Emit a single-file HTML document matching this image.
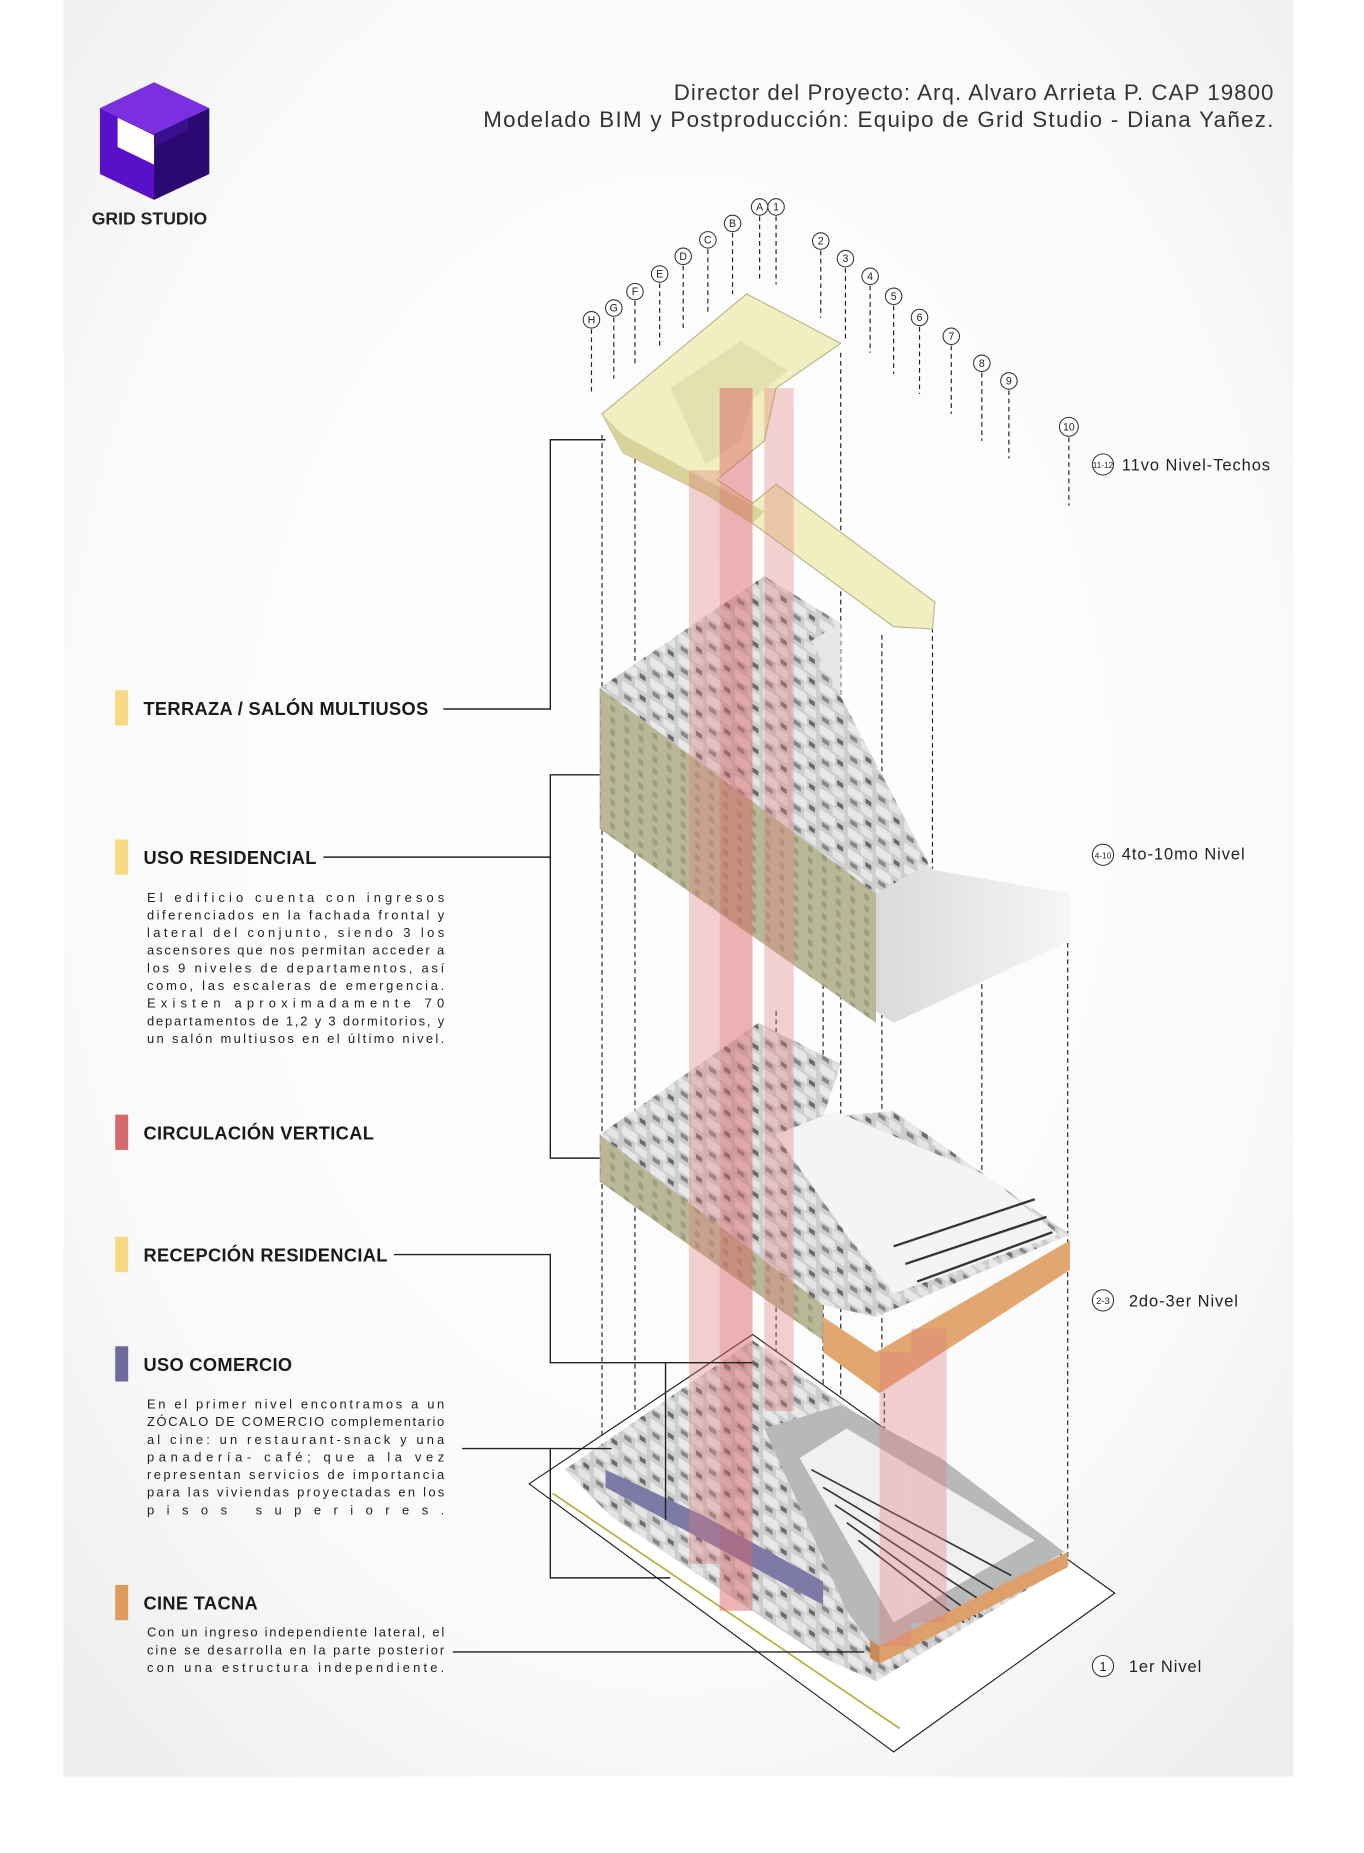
<!DOCTYPE html>
<html><head><meta charset="utf-8"><style>
html,body{margin:0;padding:0;background:#fff;}
svg{display:block}
text{font-family:"Liberation Sans",sans-serif}
.h{font-weight:bold;font-size:15.5px;fill:#1a1a1a;letter-spacing:0.3px}
.p{font-size:11px;fill:#222;letter-spacing:0.2px}
.r{font-size:14px;fill:#222;letter-spacing:0.8px}
.g{font-size:9px;fill:#222}
</style></head><body>
<svg width="1364" height="1853" viewBox="0 0 1160 1576" preserveAspectRatio="none" xmlns="http://www.w3.org/2000/svg">
<defs>
<radialGradient id="bg" cx="0.5" cy="0.45" r="0.7"><stop offset="0" stop-color="#ffffff"/><stop offset="0.7" stop-color="#fafafa"/><stop offset="1" stop-color="#eeeeee"/></radialGradient>
<linearGradient id="sh" x1="0" y1="0" x2="1" y2="0"><stop offset="0" stop-color="#cfcfcf"/><stop offset="1" stop-color="#f6f6f6"/></linearGradient>
<pattern id="rooms" width="24" height="18" patternUnits="userSpaceOnUse" patternTransform="skewY(33)">
<rect width="24" height="18" fill="#cdcdcd"/>
<rect x="1" y="1" width="13" height="8" fill="#e8e8e8"/>
<rect x="16" y="3" width="5" height="4" fill="#6a6a6a"/>
<rect x="3" y="11" width="6" height="4" fill="#888"/>
<rect x="12" y="10" width="10" height="7" fill="#e4e4e4"/>
</pattern>
<pattern id="fac" width="12" height="10" patternUnits="userSpaceOnUse" patternTransform="skewY(33)">
<rect width="12" height="10" fill="#b9b797"/>
<rect x="3" y="2" width="4" height="5" fill="#9f9d80"/>
</pattern>
</defs>
<rect x="54" y="0" width="1046" height="1511" fill="url(#bg)"/>
<!-- logo -->
<polygon points="131,70 178,92 131,114 85,92" fill="#7a2fe0"/>
<polygon points="85,92 131,114 131,170 85,148" fill="#5a10c8"/>
<polygon points="131,114 178,92 178,148 131,170" fill="#2a0a70"/>
<polygon points="100,100 131,115 131,140 100,125" fill="#fff"/>
<polygon points="131,115 160,100 160,110 131,125" fill="#3a1090"/>
<text x="78" y="191" style="font-weight:bold;font-size:15px;fill:#222">GRID STUDIO</text>
<!-- title -->
<text x="1083" y="85" text-anchor="end" style="font-size:19px;fill:#333" textLength="510" lengthAdjust="spacing">Director del Proyecto: Arq. Alvaro Arrieta P. CAP 19800</text>
<text x="1083" y="108" text-anchor="end" style="font-size:19px;fill:#333" textLength="672" lengthAdjust="spacing">Modelado BIM y Postproducción: Equipo de Grid Studio - Diana Yañez.</text>
<!-- dashed lines -->
<g stroke="#222" stroke-width="1" stroke-dasharray="4,3" fill="none">
<line x1="503" y1="280" x2="503" y2="335"/><line x1="522" y1="270" x2="522" y2="322"/><line x1="540" y1="256" x2="540" y2="310"/><line x1="561" y1="241" x2="561" y2="295"/><line x1="581" y1="226" x2="581" y2="280"/><line x1="602" y1="212" x2="602" y2="266"/><line x1="623" y1="198" x2="623" y2="250"/><line x1="646" y1="184" x2="646" y2="240"/><line x1="660" y1="184" x2="660" y2="242"/>
<line x1="698" y1="213" x2="698" y2="270"/><line x1="719" y1="228" x2="719" y2="290"/><line x1="740" y1="243" x2="740" y2="300"/><line x1="760" y1="260" x2="760" y2="318"/><line x1="782" y1="278" x2="782" y2="335"/><line x1="809" y1="294" x2="809" y2="352"/><line x1="835" y1="317" x2="835" y2="375"/><line x1="858" y1="332" x2="858" y2="390"/><line x1="909" y1="372" x2="909" y2="430"/>
<line x1="512" y1="370" x2="512" y2="1285"/><line x1="540" y1="390" x2="540" y2="1300"/><line x1="715" y1="300" x2="715" y2="1190"/><line x1="750" y1="540" x2="750" y2="1160"/><line x1="793" y1="520" x2="793" y2="740"/><line x1="835" y1="760" x2="835" y2="1000"/><line x1="908" y1="760" x2="908" y2="1330"/><line x1="700" y1="760" x2="700" y2="1190"/><line x1="660" y1="860" x2="660" y2="1150"/><line x1="752" y1="1150" x2="752" y2="1400"/>
</g>
<!-- grid bubbles -->
<g fill="#fff" stroke="#333" stroke-width="0.9">
<circle cx="503" cy="272" r="7"/><circle cx="522" cy="262" r="7"/><circle cx="540" cy="248" r="7"/><circle cx="561" cy="233" r="7"/><circle cx="581" cy="218" r="7"/><circle cx="602" cy="204" r="7"/><circle cx="623" cy="190" r="7"/><circle cx="646" cy="176" r="7"/><circle cx="660" cy="176" r="7"/><circle cx="698" cy="205" r="7"/><circle cx="719" cy="220" r="7"/><circle cx="740" cy="235" r="7"/><circle cx="760" cy="252" r="7"/><circle cx="782" cy="270" r="7"/><circle cx="809" cy="286" r="7"/><circle cx="835" cy="309" r="7"/><circle cx="858" cy="324" r="7"/><circle cx="909" cy="363" r="8"/>
<circle cx="938" cy="395" r="9"/><circle cx="938" cy="727" r="9"/><circle cx="938" cy="1106" r="9"/><circle cx="938" cy="1417" r="9"/>
</g>
<g class="g" text-anchor="middle">
<text x="503" y="275">H</text><text x="522" y="265">G</text><text x="540" y="251">F</text><text x="561" y="236">E</text><text x="581" y="221">D</text><text x="602" y="207">C</text><text x="623" y="193">B</text><text x="646" y="179">A</text><text x="660" y="179">1</text><text x="698" y="208">2</text><text x="719" y="223">3</text><text x="740" y="238">4</text><text x="760" y="255">5</text><text x="782" y="273">6</text><text x="809" y="289">7</text><text x="835" y="312">8</text><text x="858" y="327">9</text><text x="909" y="366">10</text>
<text x="938" y="398" style="font-size:7px">11-12</text><text x="938" y="730" style="font-size:7px">4-10</text><text x="938" y="1109" style="font-size:8px">2-3</text><text x="938" y="1421" style="font-size:11px">1</text>
</g>
<text x="954" y="400" class="r">11vo Nivel-Techos</text>
<text x="954" y="731" class="r">4to-10mo Nivel</text>
<text x="960" y="1111" class="r">2do-3er Nivel</text>
<text x="960" y="1422" class="r">1er Nivel</text>
<!-- ground level -->
<polygon points="450,1262 640,1135 948,1355 760,1490" fill="#fff" stroke="#222" stroke-width="1"/>
<polygon points="480,1250 640,1140 910,1330 745,1430 700,1410 520,1290" fill="url(#rooms)"/>
<polygon points="650,1215 715,1195 800,1240 905,1320 750,1410 720,1370" fill="#b8b8b8"/>
<polygon points="680,1240 720,1215 880,1310 760,1380" fill="#f0f0f0"/>
<g stroke="#333" stroke-width="1.4"><line x1="690" y1="1250" x2="860" y2="1340"/><line x1="700" y1="1265" x2="850" y2="1355"/><line x1="710" y1="1280" x2="840" y2="1365"/><line x1="720" y1="1295" x2="830" y2="1375"/><line x1="730" y1="1310" x2="820" y2="1380"/></g>
<polygon points="515,1250 600,1290 700,1345 700,1365 515,1265" fill="#7d7aa8"/>
<polygon points="748,1400 908,1320 908,1333 748,1415" fill="#dea06a"/>
<polygon points="740,1395 748,1400 748,1415 740,1410" fill="#c98a55"/>
<line x1="470" y1="1270" x2="765" y2="1470" stroke="#b9b040" stroke-width="1.5"/>
<!-- level 2-3 -->
<polygon points="510,965 645,870 715,905 700,950 760,945 910,1050 745,1120 700,1110 510,985" fill="url(#rooms)"/>
<polygon points="660,965 710,945 840,1000 900,1050 760,1100 720,1050" fill="#f4f4f4"/>
<g stroke="#333" stroke-width="2"><line x1="760" y1="1060" x2="880" y2="1020"/><line x1="770" y1="1075" x2="890" y2="1035"/><line x1="780" y1="1090" x2="895" y2="1048"/></g>
<polygon points="510,965 510,1005 700,1140 700,1110" fill="url(#fac)"/>
<polygon points="700,1120 745,1150 910,1055 910,1080 748,1185 700,1150" fill="#e2a771"/>
<!-- level 4-10 -->
<polygon points="680,660 795,740 910,760 910,800 760,870 700,830" fill="url(#sh)"/>
<polygon points="640,560 715,530 715,640 680,660 640,630" fill="#e6e6e6"/>
<polygon points="510,585 650,490 715,530 690,545 790,735 745,760" fill="url(#rooms)"/>
<polygon points="510,585 510,705 745,870 745,760" fill="url(#fac)"/>
<!-- roof -->
<polygon points="512,352 635,250 715,292 660,330 650,375 610,408 640,428 660,412 795,512 793,535 760,533 640,445 600,420 530,385" fill="#f1efc2" stroke="#bbb78a" stroke-width="1"/>
<polygon points="570,330 630,290 670,315 640,340 630,375 600,395" fill="#e4e1b0"/>
<polygon points="512,352 530,385 600,420 640,445 650,435 530,370" fill="#d8d39b"/>
<!-- circulation -->
<g fill="#e07a7a" opacity="0.35">
<rect x="586" y="400" width="26" height="930"/><rect x="612" y="330" width="28" height="1040"/><rect x="650" y="330" width="25" height="870"/><rect x="748" y="1150" width="27" height="250"/><rect x="775" y="1130" width="30" height="250"/>
</g>
<g fill="#c44" opacity="0.2"><rect x="612" y="330" width="28" height="1040"/></g>
<!-- leader lines -->
<g stroke="#222" stroke-width="1.2" fill="none">
<polyline points="377,603 468,603 468,374 515,374"/>
<polyline points="275,729 468,729"/>
<polyline points="510,659 468,659 468,985 510,985"/>
<polyline points="335,1067 468,1067 468,1159 640,1159"/>
<polyline points="566,1159 566,1293"/>
<polyline points="393,1232 520,1232"/>
<polyline points="468,1232 468,1342 570,1342"/>
<polyline points="385,1405 735,1405"/>
</g>
<!-- legend -->
<rect x="98" y="587" width="11" height="30" fill="#f7d984"/>
<rect x="98" y="714" width="11" height="30" fill="#f7d984"/>
<rect x="98" y="948" width="11" height="30" fill="#d46a6a"/>
<rect x="98" y="1052" width="11" height="30" fill="#f7d984"/>
<rect x="98" y="1145" width="11" height="30" fill="#6f6a9e"/>
<rect x="98" y="1348" width="11" height="30" fill="#df9b5c"/>
<text x="122" y="608" class="h">TERRAZA / SALÓN MULTIUSOS</text>
<text x="122" y="735" class="h">USO RESIDENCIAL</text>
<text x="122" y="969" class="h">CIRCULACIÓN VERTICAL</text>
<text x="122" y="1073" class="h">RECEPCIÓN RESIDENCIAL</text>
<text x="122" y="1166" class="h">USO COMERCIO</text>
<text x="122" y="1369" class="h">CINE TACNA</text>
<g class="p">
<text x="125" y="767" textLength="253" lengthAdjust="spacing">El edificio cuenta con ingresos</text>
<text x="125" y="782" textLength="253" lengthAdjust="spacing">diferenciados en la fachada frontal y</text>
<text x="125" y="797" textLength="253" lengthAdjust="spacing">lateral del conjunto, siendo 3 los</text>
<text x="125" y="812" textLength="253" lengthAdjust="spacing">ascensores que nos permitan acceder a</text>
<text x="125" y="827" textLength="253" lengthAdjust="spacing">los 9 niveles de departamentos, así</text>
<text x="125" y="842" textLength="253" lengthAdjust="spacing">como, las escaleras de emergencia.</text>
<text x="125" y="857" textLength="253" lengthAdjust="spacing">Existen aproximadamente 70</text>
<text x="125" y="872" textLength="253" lengthAdjust="spacing">departamentos de 1,2 y 3 dormitorios, y</text>
<text x="125" y="887" textLength="253" lengthAdjust="spacing">un salón multiusos en el último nivel.</text>
<text x="125" y="1198" textLength="253" lengthAdjust="spacing">En el primer nivel encontramos a un</text>
<text x="125" y="1213" textLength="253" lengthAdjust="spacing">ZÓCALO DE COMERCIO complementario</text>
<text x="125" y="1228" textLength="253" lengthAdjust="spacing">al cine: un restaurant-snack y una</text>
<text x="125" y="1243" textLength="253" lengthAdjust="spacing">panadería- café; que a la vez</text>
<text x="125" y="1258" textLength="253" lengthAdjust="spacing">representan servicios de importancia</text>
<text x="125" y="1273" textLength="253" lengthAdjust="spacing">para las viviendas proyectadas en los</text>
<text x="125" y="1288" textLength="253" lengthAdjust="spacing">pisos superiores.</text>
<text x="125" y="1392" textLength="253" lengthAdjust="spacing">Con un ingreso independiente lateral, el</text>
<text x="125" y="1407" textLength="253" lengthAdjust="spacing">cine se desarrolla en la parte posterior</text>
<text x="125" y="1422" textLength="253" lengthAdjust="spacing">con una estructura independiente.</text>
</g>
</svg>
</body></html>
